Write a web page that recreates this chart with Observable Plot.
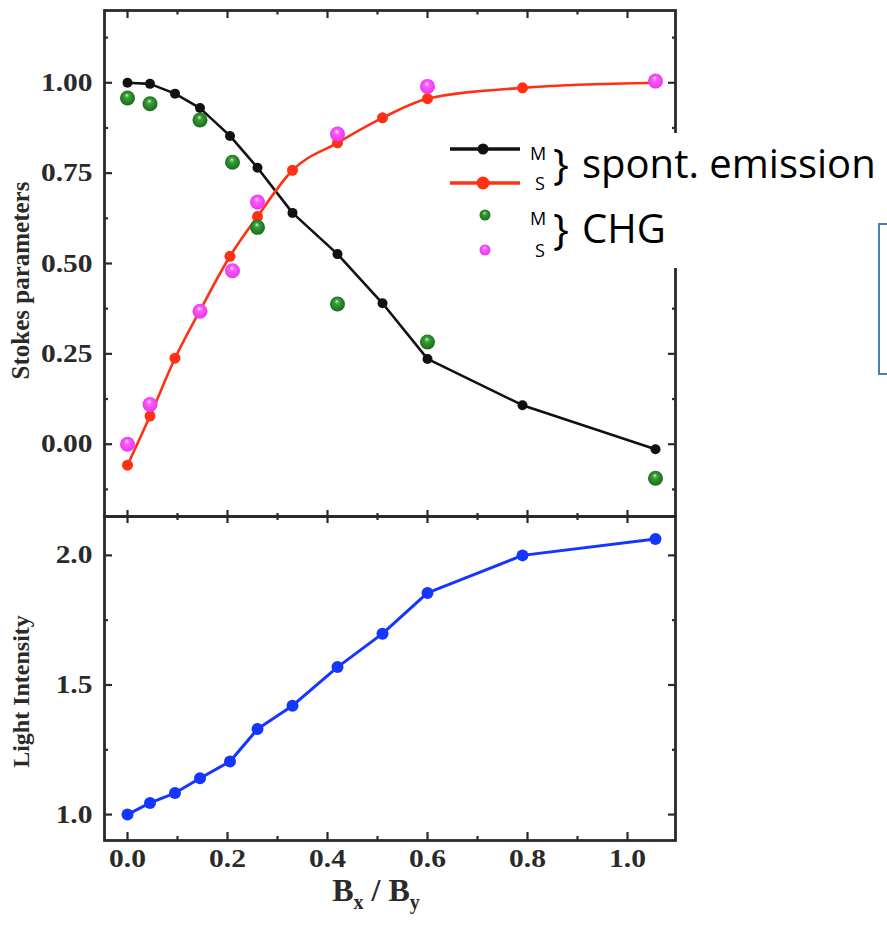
<!DOCTYPE html>
<html>
<head>
<meta charset="utf-8">
<script src="https://cdn.jsdelivr.net/npm/d3@7"></script>
<script src="https://cdn.jsdelivr.net/npm/@observablehq/plot@0.6"></script>
<style>
  html, body { margin: 0; padding: 0; background: #fff; }
  #wrap { position: relative; width: 887px; height: 938px; overflow: hidden; background: #fff; }
  #wrap > * { position: absolute; }
</style>
</head>
<body>
<svg width="0" height="0" style="position:absolute">
  <defs>
    <radialGradient id="gGreen" cx="50%" cy="50%" r="55%" fx="45%" fy="30%">
      <stop offset="0%" stop-color="#d8f0d8"/>
      <stop offset="28%" stop-color="#3aa03a"/>
      <stop offset="100%" stop-color="#146814"/>
    </radialGradient>
    <radialGradient id="gPink" cx="50%" cy="50%" r="55%" fx="45%" fy="30%">
      <stop offset="0%" stop-color="#ffe0ff"/>
      <stop offset="30%" stop-color="#ff5cff"/>
      <stop offset="100%" stop-color="#e830e8"/>
    </radialGradient>
  </defs>
</svg>
<div id="wrap"></div>
<script>
// ---------- data ----------
const xSpont   = [0, 0.045, 0.095, 0.145, 0.205, 0.26, 0.33, 0.42, 0.51, 0.60, 0.79, 1.056];
const spontM   = [1.00, 0.997, 0.97, 0.93, 0.853, 0.765, 0.64, 0.526, 0.39, 0.236, 0.108, -0.014];
const spontS   = [-0.058, 0.078, 0.238, 0.37, 0.52, 0.63, 0.758, 0.834, 0.903, 0.956, 0.986, 1.0];
const xChg     = [0, 0.045, 0.145, 0.21, 0.26, 0.42, 0.60, 1.056];
const chgM     = [0.958, 0.942, 0.897, 0.78, 0.60, 0.388, 0.283, -0.094];
const chgS     = [0.0, 0.11, 0.368, 0.48, 0.67, 0.858, 0.99, 1.005];
const intensity = [1.0, 1.045, 1.083, 1.14, 1.205, 1.33, 1.42, 1.569, 1.698, 1.855, 2.0, 2.063];

const xMajor = [0, 0.2, 0.4, 0.6, 0.8, 1.0];
const xMinor = [0.1, 0.3, 0.5, 0.7, 0.9];
const yTopMajor = [0, 0.25, 0.5, 0.75, 1.0];
const yTopMinor = [-0.125, 0.125, 0.375, 0.625, 0.875, 1.125];
const yBotMajor = [1.0, 1.5, 2.0];
const yBotMinor = [1.25, 1.75];

const yTopTitle = "Stokes parameters";
const yBotTitle = "Light Intensity";

// ---------- tables ----------
const rowsM = xSpont.map((x, i) => ({x, y: spontM[i]}));
const rowsS = xSpont.map((x, i) => ({x, y: spontS[i]}));
const rowsCM = xChg.map((x, i) => ({x, y: chgM[i]}));
const rowsCS = xChg.map((x, i) => ({x, y: chgS[i]}));
const rowsI = xSpont.map((x, i) => ({x, y: intensity[i]}));

const X_DOMAIN = [-0.046, 1.096];
const FRAME = "#2a2a2a";
const RED = "#ff3014";
const BLUE = "#1536ff";
const baseStyle = {fontFamily: "'Liberation Serif', 'Times New Roman', serif", fontSize: "25px", fontWeight: "bold", color: "#2a2a2a", background: "transparent", overflow: "visible"};

function tickAxesY(major, minor) {
  return [
    Plot.axisY(major, {anchor: "left", tickSize: 8, dx: 8, fill: "none", label: null, strokeWidth: 2.2}),
    Plot.axisY(minor, {anchor: "left", tickSize: 4, dx: 4, fill: "none", label: null, strokeWidth: 2.2}),
    Plot.axisY(major, {anchor: "right", tickSize: 8, dx: -8, fill: "none", label: null, strokeWidth: 2.2}),
    Plot.axisY(minor, {anchor: "right", tickSize: 4, dx: -4, fill: "none", label: null, strokeWidth: 2.2})
  ];
}
function tickAxesX(topSize, botSize) {
  return [
    Plot.axisX(xMajor, {anchor: "top", tickSize: topSize, dy: topSize, fill: "none", label: null, strokeWidth: 2.2}),
    Plot.axisX(xMinor, {anchor: "top", tickSize: topSize / 2, dy: topSize / 2, fill: "none", label: null, strokeWidth: 2.2}),
    Plot.axisX(xMajor, {anchor: "bottom", tickSize: botSize, dy: -botSize, fill: "none", label: null, strokeWidth: 2.2}),
    Plot.axisX(xMinor, {anchor: "bottom", tickSize: botSize / 2, dy: -botSize / 2, fill: "none", label: null, strokeWidth: 2.2})
  ];
}

const topPlot = Plot.plot({
  width: 700, height: 518,
  marginLeft: 104, marginRight: 25, marginTop: 10, marginBottom: 2,
  x: {domain: X_DOMAIN},
  y: {domain: [-0.2, 1.2]},
  style: baseStyle,
  marks: [
    Plot.line(rowsM, {x: "x", y: "y", stroke: "#111", strokeWidth: 2.6}),
    Plot.line(rowsS, {x: "x", y: "y", stroke: RED, strokeWidth: 2.6, curve: "monotone-x"}),
    Plot.dot(rowsM, {x: "x", y: "y", r: 5, fill: "#111"}),
    Plot.dot(rowsS, {x: "x", y: "y", r: 5.5, fill: RED}),
    Plot.dot(rowsCM, {x: "x", y: "y", r: 7.5, fill: "url(#gGreen)"}),
    Plot.dot(rowsCS, {x: "x", y: "y", r: 7.5, fill: "url(#gPink)"}),
    Plot.frame({stroke: FRAME, strokeWidth: 2.8}),
    ...tickAxesY(yTopMajor, yTopMinor),
    ...tickAxesX(7, 6),
    Plot.axisY(yTopMajor, {anchor: "left", tickSize: 0, tickPadding: 12, tickFormat: d3.format(".2f"), label: null}),
    Plot.text([yTopTitle], {frameAnchor: "left", rotate: -90, textAnchor: "middle", dx: -84, dy: 17, text: d => d, fontSize: 25, fontWeight: "bold", fill: "#2a2a2a"})
  ]
});

const botPlot = Plot.plot({
  width: 700, height: 432,
  marginLeft: 104, marginRight: 25, marginTop: 10, marginBottom: 98,
  x: {domain: X_DOMAIN},
  y: {domain: [0.9, 2.15]},
  style: baseStyle,
  marks: [
    Plot.line(rowsI, {x: "x", y: "y", stroke: BLUE, strokeWidth: 3}),
    Plot.dot(rowsI, {x: "x", y: "y", r: 6, fill: BLUE}),
    Plot.frame({stroke: FRAME, strokeWidth: 2.8}),
    ...tickAxesY(yBotMajor, yBotMinor),
    ...tickAxesX(6, 8),
    Plot.axisY(yBotMajor, {anchor: "left", tickSize: 0, tickPadding: 12, tickFormat: d3.format(".1f"), label: null}),
    Plot.axisX(xMajor, {anchor: "bottom", tickSize: 0, tickPadding: 9, tickFormat: d3.format(".1f"), label: null}),
    Plot.text([yBotTitle], {frameAnchor: "left", rotate: -90, textAnchor: "middle", dx: -83, dy: 13, text: d => d, fontSize: 24, fontWeight: "bold", fill: "#2a2a2a"})
  ]
});

// widen tick labels slightly (reference text is horizontally stretched)
function stretch(svg) {
  for (const t of svg.querySelectorAll('g[aria-label*="tick label"] text')) {
    const tr = t.getAttribute("transform") || "";
    let x = parseFloat(t.getAttribute("x"));
    if (!isFinite(x)) x = 0;
    t.setAttribute("transform", `${tr} translate(${x},0) scale(1.18,1) translate(${-x},0)`.trim());
  }
}
stretch(topPlot); stretch(botPlot);

const wrap = document.getElementById("wrap");
topPlot.style.left = "0px"; topPlot.style.top = "0px"; topPlot.style.position = "absolute";
botPlot.style.left = "0px"; botPlot.style.top = "506px"; botPlot.style.position = "absolute";
wrap.appendChild(topPlot);
wrap.appendChild(botPlot);

// x-axis title
const xt = document.createElement("div");
xt.style.cssText = "position:absolute;left:276px;top:874px;width:200px;text-align:center;font:bold 32px 'Liberation Serif','Times New Roman',serif;color:#2a2a2a;line-height:32px;white-space:nowrap;";
xt.innerHTML = "B<sub style='font-size:20px;vertical-align:-8px'>x</sub> / B<sub style='font-size:20px;vertical-align:-8px'>y</sub>";
wrap.appendChild(xt);

// legend (overlay box)
const lg = document.createElementNS("http://www.w3.org/2000/svg", "svg");
lg.setAttribute("width", "444"); lg.setAttribute("height", "135");
lg.style.cssText = "position:absolute;left:443px;top:133px;";
lg.innerHTML = `
  <rect x="0" y="0" width="444" height="135" fill="#fff"/>
  <line x1="7" x2="77" y1="16" y2="16" stroke="#111" stroke-width="3.5"/>
  <circle cx="40" cy="16" r="5.5" fill="#111"/>
  <line x1="7" x2="77" y1="50" y2="50" stroke="${RED}" stroke-width="3.5"/>
  <circle cx="40" cy="50" r="6.5" fill="${RED}"/>
  <circle cx="42" cy="82" r="5.5" fill="url(#gGreen)"/>
  <circle cx="42" cy="117" r="5.5" fill="url(#gPink)"/>
  <g font-family="'Open Sans','Noto Sans',sans-serif" fill="#000">
    <text x="87" y="27" font-size="18">M</text>
    <text x="92" y="57" font-size="18">S</text>
    <text x="110" y="46" font-size="42">}</text>
    <text x="139" y="45" font-size="40">spont. emission</text>
    <text x="87" y="92" font-size="18">M</text>
    <text x="92" y="124" font-size="18">S</text>
    <text x="110" y="111" font-size="42">}</text>
    <text x="139" y="110" font-size="40">CHG</text>
  </g>`;
wrap.appendChild(lg);

// blue slide box at right edge
const bx = document.createElement("div");
bx.style.cssText = "position:absolute;left:878px;top:223px;width:40px;height:148px;border:2px solid #4a7ebb;";
wrap.appendChild(bx);
</script>
</body>
</html>
